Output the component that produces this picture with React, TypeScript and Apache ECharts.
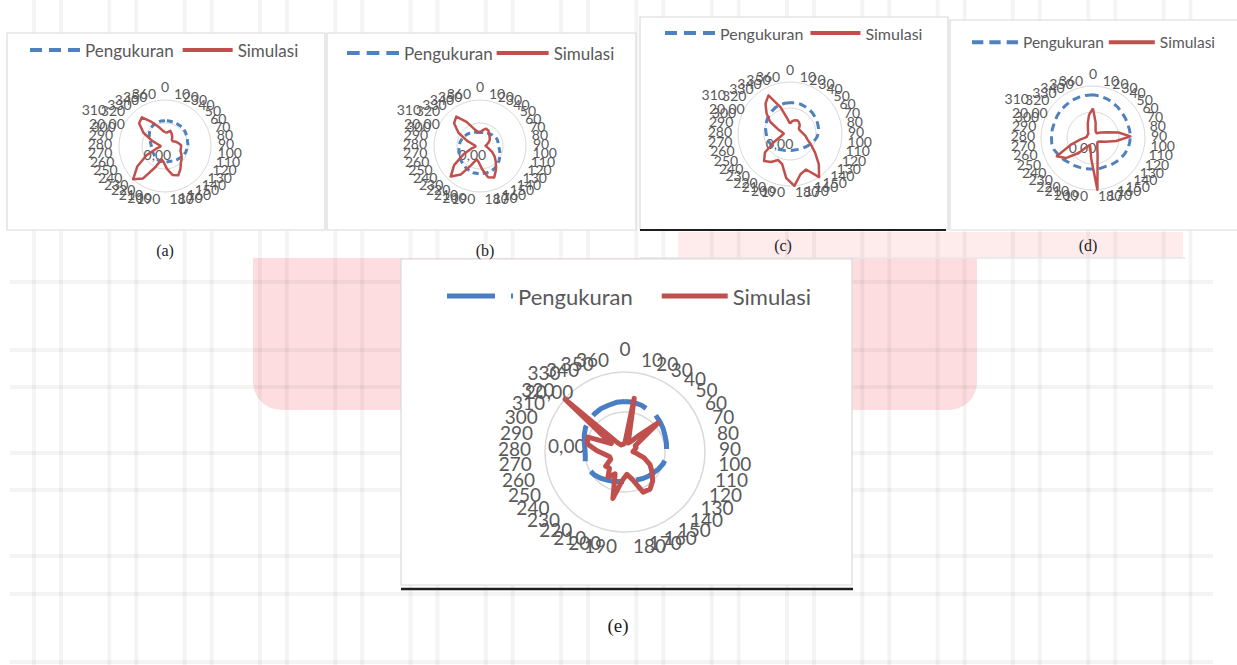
import React, { useEffect, useRef } from 'react';
import * as echarts from 'echarts';

// ---------- data ----------
const ANGLE_LABELS = ['0', '10', '20', '30', '40', '50', '60', '70', '80', '90', '100', '110', '120', '130', '140', '150', '160', '170', '180', '190', '200', '210', '220', '230', '240', '250', '260', '270', '280', '290', '300', '310', '320', '330', '340', '350', '360'];
const SERIES_NAMES = ['Pengukuran', 'Simulasi'];
const PANEL_CAPTIONS = ['(a)', '(b)', '(c)', '(d)', '(e)'];
const VALUE_TICK_LABELS = ['0,00', '20,00'];
const VALUE_MIN = -20;
const VALUE_MAX = 20;

const pengukuranA = [2, 2, 2, 2, 2, 2, 1.2, 0.8, 0, 0, -0.8, -1.2, -2, -3.2, -4, -4.8, -5.6, -6, -6, -6, -6, -6.4, -6.8, -7.2, -8, -8, -8, -8, -8, -7.2, -6, -4, -2, 0, 0.8, 1.6, 2];
const simulasiA = [-8, -8, -6, -8, -10, -12, -12, -10, -8, -6, -6, -6, -4, -2, 0, 4, 8, 6, 0, -6, -8, 0, 14, 20, 10, -2, -12, -16, -16, -14, -8, 2, 10, 12, 4, -2, -6];

const pengukuranB = [-8, -8, -7.6, -7.2, -6.4, -5.6, -4.8, -4, -4, -4, -3.2, -2, -0.8, 0.8, 2, 3.2, 4, 4, 4, 4, 4, 3.2, 2.4, 1.6, 0.8, 0, -0.8, -1.6, -2, -2.4, -3.2, -4, -4.8, -5.6, -6.4, -7.2, -8];
const simulasiB = [-8, -6, -4, -4.8, -7.2, -8.8, -10, -12, -14, -15.2, -14, -12, -8, -4, 0, 4.8, 10, 8, 0, -6, -8, -2, 10, 16.8, 8, -4, -12, -16, -16, -14, -8, 2, 10, 12.8, 4, -4, -7.2];

const pengukuranC = [4, 4.4, 4.4, 4, 4, 3.6, 3.2, 2.8, 2.4, 2, 0.8, -0.8, -2.4, -4, -5.2, -6, -6.8, -7.2, -7.2, -7.2, -6.8, -6.4, -5.6, -4.8, -4, -3.2, -2.4, -2, -1.6, -0.8, 0, 0.8, 1.6, 2.4, 3.2, 3.6, 4];
const simulasiC = [-12, -10, -8.8, -8, -8.8, -10, -12, -12, -11.2, -10, -8, -6, -2, 4, 12, 20, 10, 12, 20, 14, 4, 2, 6, 8.8, 4, -6, -12, -14, -15.2, -14, -10, -2, 4, 10, 14, 2, -8];

const pengukuranD = [13.2, 12.8, 12, 11.2, 10.4, 9.6, 9.2, 8.8, 8.8, 8.8, 8.4, 8, 7.2, 6.4, 5.6, 4.8, 4, 4, 4, 4, 4.4, 4.8, 5.6, 6.4, 8, 9.6, 11.2, 12, 12, 12, 12, 12.4, 12.8, 12.8, 13.2, 13.2, 13.2];
const simulasiD = [2.8, -8, -14, -15.2, -15.2, -14, -12, -8, 0, 8.8, -2, -10, -14, -15.2, -15.2, -14, -12, -6, 20, -4, -12, -14, -12, -4, 6, 11.2, -2, -10, -14, -15.2, -15.2, -15.2, -15.2, -14, -12, -8, -2];

const pengukuranE = [5.2, 5.2, 4.8, 4, 4, 3.2, 2.4, 1.6, 1.2, 0.8, 0.8, 0, -1.2, -2.4, -3.2, -4, -4.8, -5.2, -5.2, -5.2, -4.8, -4, -3.2, -2, -0.8, 0, 0.8, 0, 0, 0.8, 2, 3.2, 4, 4.4, 4.8, 4.8, 5.2];
const simulasiE = [-15.2, 7.2, -15.2, -14, -10, 2, -14, -14, -15.2, -16, -14, -10, -6, -3.2, 0, 2.4, 2, -6, -8.8, -6, 4, -8, -4.8, -8.8, -8, -12, -12, -10, -6, -0.8, 0, -12, 20, -14, -16, -16, -16];

// ---------- styling ----------
const FONT = "Lato, 'Noto Sans', sans-serif";
const SERIF = "'Liberation Serif', 'DejaVu Serif', serif";
const BLUE = '#4f81bd';
const BLUE_E = '#4a7ec4';
const RED = '#c0504d';
const LABEL = '#595959';

type ChartCfg = {
  peng: number[]; sim: number[];
  cx: number; cy: number; r: number; nameGap: number; fs: number;
  k0: number; k20: number;
  blueColor: string; blueWidth: number; blueDash: number[]; redWidth: number; splitW: number;
  legend: { left: number; yc: number; fs: number; itemWidth: number; itemGap: number; h: number; blueIcon: string };
};

const dashIcon = (w: number, h: number, n: number) => {
  const gap = Math.round(w * 0.14);
  const seg = (w - gap * (n - 1)) / n;
  let d = 'path://';
  for (let i = 0; i < n; i++) {
    const x = i * (seg + gap);
    d += `M${x},0h${seg}v${h}h${-seg}z `;
  }
  return d.trim();
};

const CHARTS: ChartCfg[] = [
  {
    peng: pengukuranA, sim: simulasiA, cx: 165, cy: 146, r: 46, nameGap: 7, fs: 14, k0: 26, k20: 31,
    blueColor: BLUE, blueWidth: 3, blueDash: [6, 4], redWidth: 2.5, splitW: 1,
    legend: { left: 30, yc: 50, fs: 17, itemWidth: 50, itemGap: 9, h: 4, blueIcon: dashIcon(50, 4, 3) },
  },
  {
    peng: pengukuranB, sim: simulasiB, cx: 480, cy: 146, r: 46, nameGap: 7, fs: 14, k0: 26, k20: 31,
    blueColor: BLUE, blueWidth: 3, blueDash: [6, 4], redWidth: 2.5, splitW: 1,
    legend: { left: 347, yc: 53, fs: 17, itemWidth: 52, itemGap: 4, h: 4, blueIcon: dashIcon(52, 4, 3) },
  },
  {
    peng: pengukuranC, sim: simulasiC, cx: 790, cy: 134, r: 52, nameGap: 6, fs: 14, k0: 26, k20: 31,
    blueColor: BLUE, blueWidth: 3, blueDash: [8, 5], redWidth: 2.5, splitW: 1,
    legend: { left: 665, yc: 33, fs: 16, itemWidth: 50, itemGap: 7, h: 4, blueIcon: dashIcon(50, 4, 3) },
  },
  {
    peng: pengukuranD, sim: simulasiD, cx: 1093, cy: 138, r: 52, nameGap: 6, fs: 14, k0: 26, k20: 31,
    blueColor: BLUE, blueWidth: 3, blueDash: [8, 5], redWidth: 2.5, splitW: 1,
    legend: { left: 972, yc: 42, fs: 15.5, itemWidth: 46, itemGap: 5, h: 4, blueIcon: dashIcon(46, 4, 3) },
  },
  {
    peng: pengukuranE, sim: simulasiE, cx: 625, cy: 452, r: 80, nameGap: 14, fs: 19, k0: 29, k20: 33,
    blueColor: BLUE_E, blueWidth: 5, blueDash: [36, 12], redWidth: 5, splitW: 1.5,
    legend: { left: 447, yc: 296, fs: 22, itemWidth: 66, itemGap: 29, h: 5, blueIcon: 'path://M0,0h48v5h-48z M64,0h2v5h-2z' },
  },
];

// Excel draws categories clockwise; ECharts radar goes counter-clockwise.
const ORDER = [0, ...ANGLE_LABELS.map((_, i) => i).slice(1).reverse()];
const reorder = (arr: number[]) => ORDER.map((k) => arr[k]);

function buildOption() {
  const radar = CHARTS.map((c) => ({
    center: [c.cx, c.cy],
    radius: c.r,
    startAngle: 90,
    shape: 'circle',
    splitNumber: 2,
    nameGap: c.nameGap,
    axisName: { color: LABEL, fontSize: c.fs, fontFamily: FONT },
    axisLine: { show: false },
    axisTick: { show: false },
    axisLabel: { show: false },
    splitLine: { lineStyle: { color: '#d9d9d9', width: c.splitW } },
    splitArea: { show: false },
    indicator: ORDER.map((k) => {
      const ind: any = { name: ANGLE_LABELS[k], min: VALUE_MIN, max: VALUE_MAX };
      if (k === c.k0 || k === c.k20) {
        const target = k === c.k0 ? 0 : 20;
        const text = k === c.k0 ? VALUE_TICK_LABELS[0] : VALUE_TICK_LABELS[1];
        ind.axisLabel = {
          show: true, color: LABEL, fontSize: c.fs, fontFamily: FONT, margin: 2,
          formatter: (v: number) => (Math.abs(v - target) < 1e-6 ? text : ''),
        };
      }
      return ind;
    }),
  }));

  const series = CHARTS.map((c, i) => ({
    type: 'radar',
    radarIndex: i,
    symbol: 'none',
    silent: true,
    data: [
      {
        name: SERIES_NAMES[0], value: reorder(c.peng),
        lineStyle: { color: c.blueColor, width: c.blueWidth, type: c.blueDash },
        itemStyle: { color: c.blueColor },
      },
      {
        name: SERIES_NAMES[1], value: reorder(c.sim),
        lineStyle: { color: RED, width: c.redWidth, type: 'solid', join: 'round' },
        itemStyle: { color: RED },
      },
    ],
  }));

  const legend = CHARTS.map((c) => ({
    left: c.legend.left,
    top: c.legend.yc - c.legend.fs / 2,
    padding: 0,
    orient: 'horizontal',
    itemWidth: c.legend.itemWidth,
    itemHeight: c.legend.h,
    itemGap: c.legend.itemGap,
    selectedMode: false,
    textStyle: { color: LABEL, fontSize: c.legend.fs, fontFamily: FONT },
    data: [
      { name: SERIES_NAMES[0], icon: c.legend.blueIcon, itemStyle: { color: c.blueColor } },
      { name: SERIES_NAMES[1], icon: 'rect', itemStyle: { color: RED } },
    ],
  }));

  const graphics: any[] = [];
  // pink decorations
  graphics.push({ type: 'rect', z: -30, silent: true, shape: { x: 253, y: 258, width: 724, height: 152, r: [0, 0, 28, 28] }, style: { fill: '#fddde0' } });
  graphics.push({ type: 'rect', z: -30, silent: true, shape: { x: 678, y: 232, width: 505, height: 26 }, style: { fill: '#feeced' } });
  // faint background grid
  const gridStroke = 'rgba(0,0,0,0.042)';
  for (let x0 = 34; x0 < 1200; x0 += 75.3) {
    [x0, x0 + 27].forEach((x) => {
      if (x < 1200) graphics.push({ type: 'line', z: -25, silent: true, shape: { x1: x, y1: 0, x2: x, y2: 665 }, style: { stroke: gridStroke, lineWidth: 4 } });
    });
  }
  [282, 350, 387, 453, 490, 556, 594, 662].forEach((y) => {
    graphics.push({ type: 'line', z: -25, silent: true, shape: { x1: 10, y1: y, x2: 1213, y2: y }, style: { stroke: gridStroke, lineWidth: 4 } });
  });
  graphics.push({ type: 'line', z: -24, silent: true, shape: { x1: 640, y1: 258, x2: 1185, y2: 258 }, style: { stroke: '#e6e6e6', lineWidth: 1.5 } });
  // panels
  const panels = [
    { x: 7, y: 33, width: 318, height: 197 },
    { x: 327, y: 33, width: 309, height: 197 },
    { x: 640, y: 17, width: 308, height: 213 },
    { x: 950, y: 20, width: 290, height: 210 },
    { x: 401, y: 259, width: 451, height: 326 },
  ];
  panels.forEach((p) => {
    graphics.push({ type: 'rect', z: -20, silent: true, shape: p, style: { fill: '#ffffff', stroke: '#dadada', lineWidth: 1.2 } });
  });
  graphics.push({ type: 'line', z: -15, silent: true, shape: { x1: 640, y1: 230, x2: 946, y2: 230 }, style: { stroke: '#1e1e1e', lineWidth: 2 } });
  graphics.push({ type: 'line', z: -15, silent: true, shape: { x1: 401, y1: 589, x2: 853, y2: 589 }, style: { stroke: '#1e1e1e', lineWidth: 2.5 } });
  // captions
  const capPos = [[165, 250, 16], [485, 250, 16], [783, 245, 16], [1088, 245, 16], [618, 625, 19]];
  PANEL_CAPTIONS.forEach((t, i) => {
    graphics.push({
      type: 'text', z: 10, silent: true, x: capPos[i][0], y: capPos[i][1],
      style: { text: t, fill: '#222222', fontFamily: SERIF, fontSize: capPos[i][2], align: 'center', verticalAlign: 'middle' },
    });
  });

  return {
    animation: false,
    backgroundColor: '#ffffff',
    graphic: { elements: graphics },
    legend,
    radar,
    series,
  };
}

export default function App() {
  const ref = useRef<HTMLDivElement>(null);
  useEffect(() => {
    if (!ref.current) return;
    const chart = echarts.init(ref.current, undefined, { renderer: 'svg' });
    chart.setOption(buildOption() as any);
    return () => chart.dispose();
  }, []);
  return (
    <div
      ref={ref}
      style={{ position: 'fixed', left: 0, top: 0, width: 1237, height: 665, background: '#ffffff' }}
    />
  );
}
